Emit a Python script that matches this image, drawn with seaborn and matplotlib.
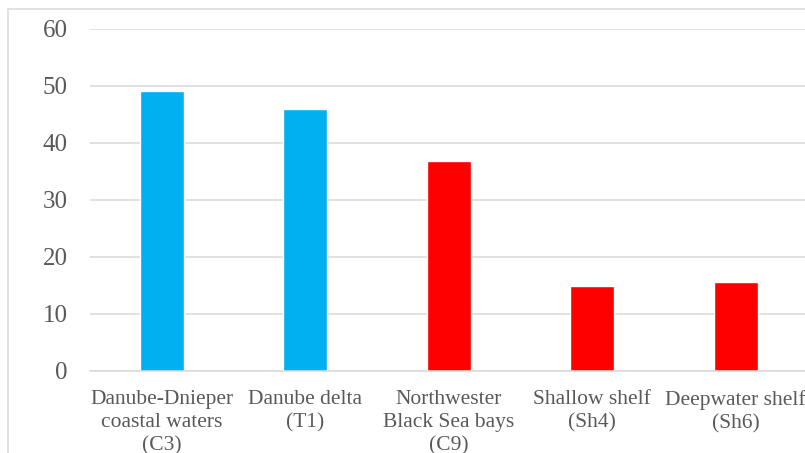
import pandas as pd
import seaborn as sns
import matplotlib.pyplot as plt
from matplotlib.lines import Line2D

categories = ["Danube-Dnieper\ncoastal waters\n(C3)", "Danube delta\n(T1)",
              "Northwester\nBlack Sea bays\n(C9)", "Shallow shelf\n(Sh4)",
              "Deepwater shelf\n(Sh6)"]
values = [49.1, 45.8, 36.8, 14.9, 15.6]
bar_colors = ["#00B0F0", "#00B0F0", "#FF0000", "#FF0000", "#FF0000"]

sns.set_style("white")
plt.rcParams['font.family'] = ['Liberation Serif', 'DejaVu Serif']

df = pd.DataFrame({"site": categories, "value": values})

fig = plt.figure(figsize=(8.05, 4.53), dpi=100)
ax = fig.add_axes([90/805, 1 - 370.7/453, 717.5/805, (370.7 - 28.5)/453])
sns.barplot(x="site", y="value", hue="site", data=df, palette=bar_colors,
            width=0.31, legend=False, saturation=1, ax=ax)

ax.set_ylim(0, 60)
ax.set_yticks(range(0, 61, 10))
ax.set_xlim(-0.5, len(categories) - 0.5)
ax.yaxis.grid(True, color="#d9d9d9", linewidth=1.1)
ax.set_axisbelow(True)
for s in ["top", "right", "left"]:
    ax.spines[s].set_visible(False)
ax.spines["bottom"].set_color("#d9d9d9")
ax.spines["bottom"].set_linewidth(1.1)
ax.set_xlabel("")
ax.set_ylabel("")
ax.tick_params(axis="y", length=0, pad=16, labelsize=18, labelcolor="#595959")
ax.tick_params(axis="x", length=0, pad=14, labelsize=15.5, labelcolor="#595959")
for lab in ax.get_xticklabels():
    lab.set_linespacing(1.28)

# chart frame
fig.add_artist(Line2D([8/805, 8/805], [0, 1 - 9/453], color="#d9d9d9", linewidth=1.1))
fig.add_artist(Line2D([8/805, 1], [1 - 9/453, 1 - 9/453], color="#d9d9d9", linewidth=1.1))

fig.savefig("out.png", dpi=100)
